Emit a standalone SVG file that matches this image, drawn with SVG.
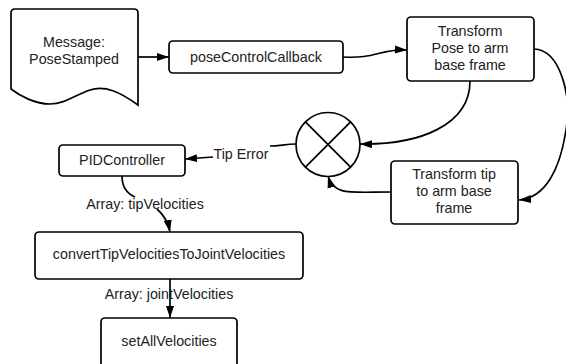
<svg xmlns="http://www.w3.org/2000/svg" width="566" height="364" viewBox="0 0 566 364">
<style>
.n{fill:#fff;stroke:#000;stroke-width:1.7}
.c{fill:none;stroke:#000;stroke-width:1.7}
text{font-family:"Liberation Sans",Arial,sans-serif;font-size:14.3px;fill:#222;text-anchor:middle}
</style>
<defs>
<marker id="a" viewBox="0 0 12 10" refX="12" refY="5" markerWidth="12" markerHeight="10" markerUnits="userSpaceOnUse" orient="auto">
<path d="M0,1 L12,5 L0,9 Z" fill="#000"/>
</marker>
</defs>
<rect width="566" height="364" fill="#fff"/>
<g id="connectors">
<path class="c" d="M138,57 L169,57" marker-end="url(#a)"/>
<path class="c" d="M343,57 C375,59 380,49 407,50" marker-end="url(#a)"/>
<path class="c" d="M534,49 C560,50 572,95 566,130 C560,170 545,198 519,200" marker-end="url(#a)"/>
<path class="c" d="M470,81 C470,125 420,145 360,144" marker-end="url(#a)"/>
<path class="c" d="M391,192 C350,192 334,196 328,176" marker-end="url(#a)"/>
<path class="c" d="M296,144 C285,144 280,146 270,146 M213,157 L185,159" marker-end="url(#a)"/>
<path class="c" d="M122,176 C122,188 128,194 135,197 M157,209 C164,215 168,222 170,232" marker-end="url(#a)"/>
<path class="c" d="M170,279 L170,318" marker-end="url(#a)"/>
<text x="241" y="159">Tip Error</text>
<text x="145" y="209">Array: tipVelocities</text>
<text x="169" y="299">Array: jointVelocities</text>
</g>
<g id="message">
<path class="n" d="M15,9 L134,9 Q138,9 138,13 L138,105 C120,92 105,85 90,90 C75,95 65,104 50,104 C35,104 20,96 11,89 L11,13 Q11,9 15,9 Z"/>
<text x="74" y="47">Message:</text>
<text x="74" y="64">PoseStamped</text>
</g>
<g id="poseControlCallback">
<rect class="n" x="169" y="41" width="174" height="32" rx="4"/>
<text x="256" y="62">poseControlCallback</text>
</g>
<g id="transformPose">
<rect class="n" x="407" y="17" width="127" height="64" rx="4"/>
<text x="470" y="36">Transform</text>
<text x="470" y="53">Pose to arm</text>
<text x="470" y="70">base frame</text>
</g>
<g id="sum">
<circle class="n" cx="328" cy="144.5" r="32"/>
<path class="c" d="M305.4,121.9 L350.6,167.1 M350.6,121.9 L305.4,167.1"/>
</g>
<g id="transformTip">
<rect class="n" x="391" y="161" width="127" height="63" rx="4"/>
<text x="454" y="179">Transform tip</text>
<text x="454" y="196">to arm base</text>
<text x="454" y="213">frame</text>
</g>
<g id="pid">
<rect class="n" x="59" y="145" width="126" height="31" rx="4"/>
<text x="122" y="165">PIDController</text>
</g>
<g id="convert">
<rect class="n" x="35" y="232" width="268" height="47" rx="4"/>
<text x="169" y="259">convertTipVelocitiesToJointVelocities</text>
</g>
<g id="setAll">
<rect class="n" x="101" y="318" width="136" height="60" rx="4"/>
<text x="169" y="346">setAllVelocities</text>
</g>
</svg>
